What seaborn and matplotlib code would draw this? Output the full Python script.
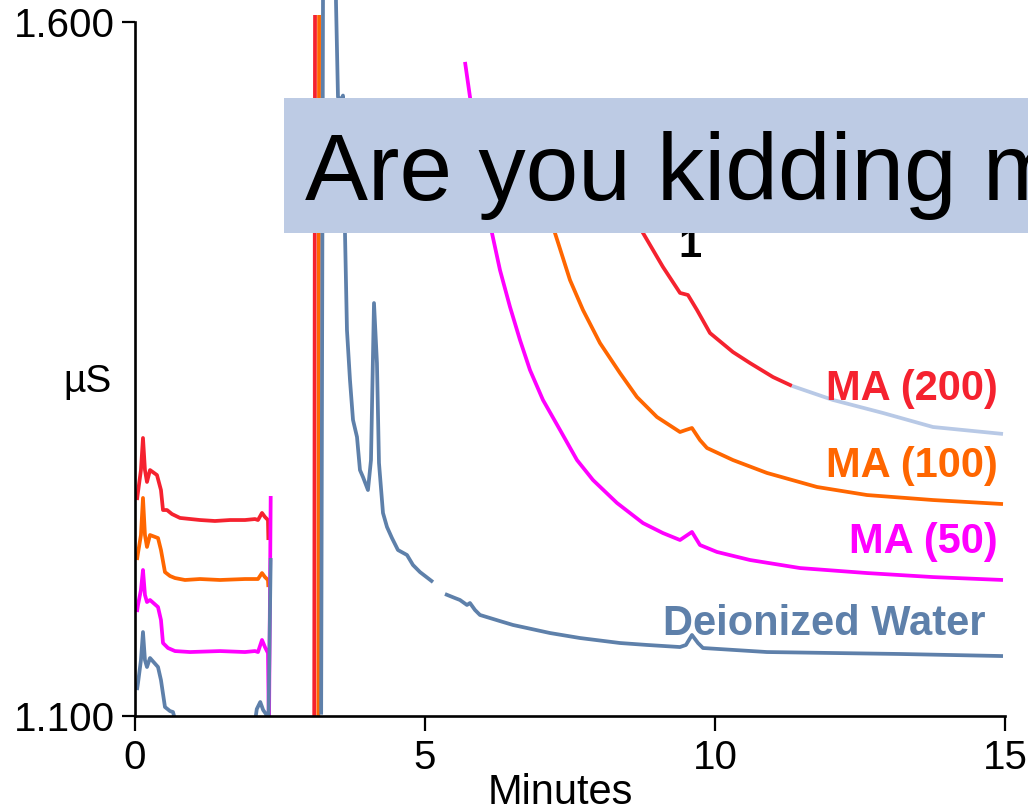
import matplotlib
matplotlib.use("Agg")
import matplotlib.pyplot as plt
import numpy as np
import pandas as pd
import seaborn as sns
from matplotlib.patches import Rectangle

# ---------------- data (minutes, µS) ----------------
x_ticks = [0, 5, 10, 15]
x_tick_labels = ["0", "5", "10", "15"]
y_ticks = [1.100, 1.600]
y_tick_labels = ["1.100", "1.600"]

# MA (200)
red_left_t = [0.034, 0.052, 0.103, 0.138, 0.172, 0.207, 0.259, 0.379, 0.448, 0.483, 0.552, 0.638, 0.776,
              1.121, 1.379, 1.638, 1.897, 2.069, 2.121, 2.190, 2.241, 2.293, 2.300]
red_left_us = [1.2556, 1.2614, 1.2772, 1.3003, 1.2772, 1.2686, 1.2772, 1.2736, 1.2628, 1.2484, 1.2484, 1.2455,
               1.2427, 1.2412, 1.2405, 1.2412, 1.2412, 1.2419, 1.2412, 1.2463, 1.2434, 1.2412, 1.2268]
red_spike_t = [3.09, 3.11]
red_spike_us = [1.09, 1.80]
red_tail_t = [8.017, 8.448, 8.759, 9.103, 9.397, 9.534, 9.690, 9.914, 10.310, 10.603, 11.000, 11.328]
red_tail_us = [1.5078, 1.4718, 1.4480, 1.4235, 1.4048, 1.4033, 1.3925, 1.3759, 1.3622, 1.3543, 1.3442, 1.3378]
red_fade_t = [11.328, 12.034, 12.897, 13.759, 14.966]
red_fade_us = [1.3378, 1.3277, 1.3183, 1.3082, 1.3032]

# MA (100)
orange_left_t = [0.034, 0.052, 0.103, 0.138, 0.172, 0.207, 0.259, 0.397, 0.448, 0.517, 0.603, 0.690, 0.862,
                 1.121, 1.466, 1.897, 2.069, 2.121, 2.190, 2.241, 2.293, 2.300]
orange_left_us = [1.2124, 1.2174, 1.2304, 1.2571, 1.2304, 1.2218, 1.2304, 1.2282, 1.2196, 1.2037, 1.2009,
                  1.1994, 1.1980, 1.1987, 1.1980, 1.1987, 1.1987, 1.1987, 1.2030, 1.2001, 1.1980, 1.1929]
orange_spike_t = [3.16, 3.18]
orange_spike_us = [1.09, 1.80]
orange_tail_t = [6.638, 7.069, 7.241, 7.500, 7.724, 8.017, 8.362, 8.655, 9.000, 9.397, 9.500, 9.603, 9.741,
                 9.862, 10.310, 10.897, 11.759, 12.621, 13.759, 14.966]
orange_tail_us = [1.5078, 1.4646, 1.4480, 1.4141, 1.3925, 1.3687, 1.3471, 1.3298, 1.3154, 1.3046, 1.3061,
                  1.3075, 1.2988, 1.2931, 1.2844, 1.2751, 1.2650, 1.2592, 1.2556, 1.2527]

# MA (50)
magenta_left_t = [0.034, 0.052, 0.103, 0.138, 0.172, 0.207, 0.259, 0.397, 0.448, 0.483, 0.569, 0.690, 0.948,
                  1.466, 1.897, 2.069, 2.121, 2.190, 2.241, 2.293, 2.310, 2.340]
magenta_left_us = [1.1749, 1.1800, 1.1908, 1.2052, 1.1872, 1.1821, 1.1836, 1.1785, 1.1692, 1.1526, 1.1490,
                   1.1468, 1.1461, 1.1468, 1.1461, 1.1468, 1.1461, 1.1548, 1.1497, 1.1454, 1.0900, 1.2585]
magenta_tail_t = [5.690, 5.776, 5.948, 6.155, 6.293, 6.466, 6.638, 6.810, 7.034, 7.328, 7.621, 7.897, 8.310,
                  8.759, 9.103, 9.397, 9.603, 9.741, 10.034, 10.603, 11.466, 12.621, 13.759, 14.966]
magenta_tail_us = [1.5712, 1.5460, 1.5006, 1.4480, 1.4213, 1.3947, 1.3709, 1.3493, 1.3277, 1.3061, 1.2844,
                   1.2700, 1.2535, 1.2390, 1.2318, 1.2268, 1.2326, 1.2232, 1.2182, 1.2124, 1.2066, 1.2030,
                   1.2001, 1.1980]

# Deionized Water
blue_left_t = [0.034, 0.052, 0.103, 0.138, 0.172, 0.207, 0.259, 0.397, 0.448, 0.517, 0.603, 0.655, 0.741,
               2.050, 2.100, 2.160, 2.210, 2.260, 2.300, 2.340]
blue_left_us = [1.1187, 1.1238, 1.1403, 1.1605, 1.1403, 1.1353, 1.1418, 1.1353, 1.1259, 1.1065, 1.1036,
                1.1029, 1.0900, 1.0900, 1.1050, 1.1101, 1.1043, 1.1014, 1.0900, 1.2138]
blue_peak_t = [3.21, 3.25, 3.35, 3.44, 3.466, 3.500, 3.560, 3.586, 3.621, 3.655, 3.707, 3.759, 3.828, 3.879,
               3.931, 4.017, 4.069, 4.121, 4.172, 4.207, 4.276, 4.345, 4.431, 4.534, 4.690, 4.793, 4.914,
               5.138]
blue_peak_us = [1.1010, 1.7500, 1.8000, 1.7500, 1.6140, 1.5460, 1.5440, 1.5470, 1.4480, 1.3780, 1.3420,
                1.3133, 1.3010, 1.2772, 1.2722, 1.2628, 1.2844, 1.3975, 1.3543, 1.2823, 1.2463, 1.2362,
                1.2282, 1.2196, 1.2160, 1.2088, 1.2037, 1.1965]
blue_tail_t = [5.345, 5.517, 5.603, 5.724, 5.776, 5.862, 5.948, 6.293, 6.517, 7.155, 7.672, 8.362, 8.828,
               9.397, 9.500, 9.603, 9.707, 9.793, 10.897, 12.034, 13.190, 14.966]
blue_tail_us = [1.1879, 1.1850, 1.1836, 1.1800, 1.1814, 1.1764, 1.1728, 1.1684, 1.1656, 1.1598, 1.1562,
                1.1526, 1.1512, 1.1497, 1.1512, 1.1584, 1.1526, 1.1490, 1.1461, 1.1454, 1.1447, 1.1432]

series_labels = ["MA (200)", "MA (100)", "MA (50)", "Deionized Water"]
label_t = [14.88, 14.88, 14.88, 14.66]
label_us = [1.3277, 1.2722, 1.2174, 1.1584]
peak_label = "1"
peak_label_t = 9.56
peak_label_us = 1.4307
overlay_text = "Are you kidding me?"

# ---------------- style ----------------
RED = "#F5222F"
ORANGE = "#FF6600"
MAGENTA = "#FF00FF"
BLUE = "#5E80AA"
PALE = "#BDCBE4"
FADE = "#B8C9E6"

sns.set_theme(style="ticks")
plt.rcParams["font.family"] = ["Liberation Sans", "DejaVu Sans"]

fig = plt.figure(figsize=(10.28, 8.11), dpi=100)
ax = fig.add_axes([0.1313, 0.1171, 0.8463, 0.8644])

segments = [
    (red_left_t, red_left_us, RED, True),
    (orange_left_t, orange_left_us, ORANGE, True),
    (magenta_left_t, magenta_left_us, MAGENTA, True),
    (blue_left_t, blue_left_us, BLUE, True),
    (magenta_tail_t, magenta_tail_us, MAGENTA, True),
    (blue_tail_t, blue_tail_us, BLUE, True),
    (orange_tail_t, orange_tail_us, ORANGE, True),
    (red_tail_t, red_tail_us, RED, True),
    (red_fade_t, red_fade_us, FADE, True),
    (red_spike_t, red_spike_us, RED, True),
    (orange_spike_t, orange_spike_us, ORANGE, True),
    (blue_peak_t, blue_peak_us, BLUE, False),
]
for t, us, col, clip in segments:
    df = pd.DataFrame({"Minutes": t, "uS": us})
    sns.lineplot(data=df, x="Minutes", y="uS", ax=ax, color=col, linewidth=2.7,
                 estimator=None, sort=False, legend=False)
    ln = ax.lines[-1]
    ln.set_clip_on(clip)
    ln.set_solid_joinstyle("round")
    ln.set_solid_capstyle("butt")

ax.set_xlim(0, 15)
ax.set_ylim(1.1, 1.605)
ax.set_xticks(x_ticks)
ax.set_xticklabels(x_tick_labels)
ax.set_yticks(y_ticks)
ax.set_yticklabels(y_tick_labels)
ax.tick_params(axis="x", length=10.8, width=1.6, pad=5.5, labelsize=29, color="black", labelcolor="black")
ax.tick_params(axis="y", length=9.4, width=1.6, pad=5, labelsize=29, color="black", labelcolor="black")
for s in ["top", "right"]:
    ax.spines[s].set_visible(False)
for s in ["left", "bottom"]:
    ax.spines[s].set_linewidth(1.9)
    ax.spines[s].set_color("black")
    ax.spines[s].set_zorder(5)
ax.spines["left"].set_bounds(1.1, 1.6)

ax.set_xlabel("Minutes", fontsize=30, color="black", va="baseline")
ax.xaxis.set_label_coords(0.489, -0.1255)
ax.set_ylabel("µS", fontsize=28, color="black", rotation=0, ha="center", va="baseline")
ax.yaxis.set_label_coords(-0.054, 0.4622)

label_colors = [RED, ORANGE, MAGENTA, BLUE]
for lab, lt, lu, c in zip(series_labels, label_t, label_us, label_colors):
    ax.text(lt, lu, lab, color=c, fontsize=30, fontweight="bold", ha="right", va="baseline")

ax.text(peak_label_t, peak_label_us, peak_label, color="black", fontsize=30, fontweight="bold",
        ha="center", va="baseline")

# overlay banner (figure level, above axes; runs off the right edge as in the original)
fig.patches.append(Rectangle((284 / 1028, 1 - 233 / 811), 1.0, 135 / 811, transform=fig.transFigure,
                             facecolor=PALE, edgecolor="none", zorder=2))
fig.text(305 / 1028, 1 - 200 / 811, overlay_text, fontsize=68, color="black", ha="left",
         va="baseline", zorder=3)

fig.savefig("out.png", dpi=100)
